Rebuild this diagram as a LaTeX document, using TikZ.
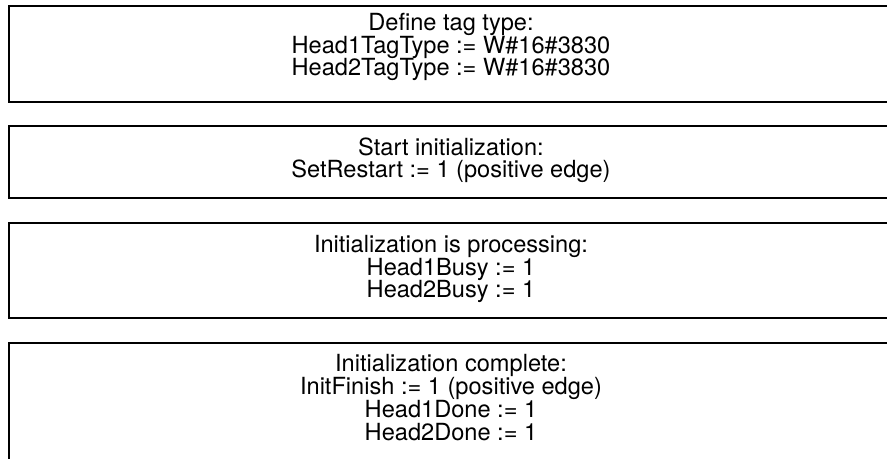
\documentclass[tikz,border=0pt]{standalone}
\usepackage{fontspec}
\setmainfont{TeX Gyre Heros}
\begin{document}
\begin{tikzpicture}[x=1bp,y=-1bp,
  frame/.style={line width=2bp,draw=black},
  label/.style={align=center,anchor=base,inner sep=0pt,
    font=\fontsize{23.6bp}{22.7bp}\selectfont}]
\clip (0,0) rectangle (887,459);
\fill[white] (0,0) rectangle (887,459);
% boxes (open to the right edge)
\draw[frame] (900,6) -- (9,6) -- (9,102) -- (900,102);
\draw[frame] (900,126) -- (9,126) -- (9,198) -- (900,198);
\draw[frame] (900,223) -- (9,223) -- (9,318) -- (900,318);
\draw[frame] (900,343) -- (9,343) -- (9,470);
% texts (base anchor = baseline of last line)
\node[label] (t1) at (451,76) {Define tag type:\\Head1TagType := W\#16\#3830\\Head2TagType := W\#16\#3830};
\node[label] (t2) at (451,178) {Start initialization:\\SetRestart := 1 (positive edge)};
\node[label] (t3) at (451,298) {Initialization is processing:\\Head1Busy := 1\\Head2Busy := 1};
\node[label] (t4) at (451,440) {Initialization complete:\\InitFinish := 1 (positive edge)\\Head1Done := 1\\Head2Done := 1};
\end{tikzpicture}
\end{document}
